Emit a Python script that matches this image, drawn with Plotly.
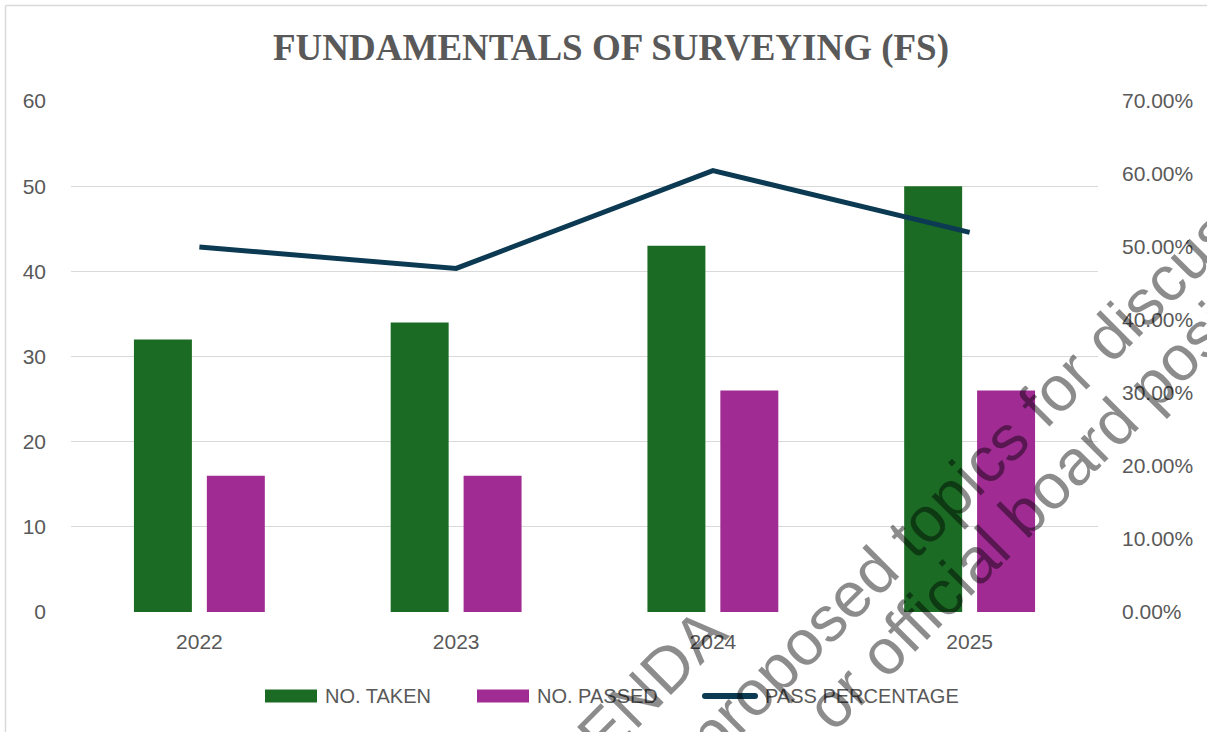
import plotly.graph_objects as go

# ---------------- data ----------------
years = ["2022", "2023", "2024", "2025"]
no_taken = [32, 34, 43, 50]
no_passed = [16, 16, 26, 26]
pass_pct = [0.50, 0.4706, 0.6047, 0.52]

title_text = "FUNDAMENTALS OF SURVEYING (FS)"
legend_names = ["NO. TAKEN", "NO. PASSED", "PASS PERCENTAGE"]
watermark_lines = ["AGENDA", "proposed topics for discussion", "or official board position"]

# ---------------- styles ----------------
GREEN = "#1B6B24"
PURPLE = "#A02B93"
NAVY = "#0C3A52"
TEXT = "#595959"
GRID = "#D9D9D9"

W, H = 1207, 732
L, R, T, B = 71, 1098, 101, 612  # plot area in pixels


def px2x(px):
    return (px - L) / (R - L)


def px2y(py):
    return (B - py) / (B - T)


fig = go.Figure()
fig.add_trace(go.Bar(x=years, y=no_taken, name=legend_names[0], marker_color=GREEN,
                     marker_line_width=0, showlegend=False))
fig.add_trace(go.Bar(x=years, y=no_passed, name=legend_names[1], marker_color=PURPLE,
                     marker_line_width=0, showlegend=False))
fig.add_trace(go.Scatter(x=years, y=pass_pct, name=legend_names[2], yaxis="y2",
                         mode="lines", line=dict(color=NAVY, width=5), showlegend=False))

shapes = []
annotations = []

# outer chart frame (top and left edges visible)
shapes.append(dict(type="line", xref="paper", yref="paper",
                   x0=px2x(5.5), x1=px2x(W + 5), y0=px2y(5.5), y1=px2y(5.5),
                   line=dict(color=GRID, width=1.5)))
shapes.append(dict(type="line", xref="paper", yref="paper",
                   x0=px2x(5.5), x1=px2x(5.5), y0=px2y(5.5), y1=px2y(H + 5),
                   line=dict(color=GRID, width=1.5)))

# custom legend
ly0, ly1, lyc = px2y(702.5), px2y(689.5), px2y(696)
shapes.append(dict(type="rect", xref="paper", yref="paper", x0=px2x(265), x1=px2x(317),
                   y0=ly0, y1=ly1, fillcolor=GREEN, line_width=0))
shapes.append(dict(type="rect", xref="paper", yref="paper", x0=px2x(477), x1=px2x(529),
                   y0=ly0, y1=ly1, fillcolor=PURPLE, line_width=0))
# rounded line swatch
x0, x1 = px2x(705), px2x(755)
r = 3.0 / (R - L)
ya, yb = px2y(693), px2y(699)
path = (f"M{x0},{ya} L{x1},{ya} Q{x1 + r},{ya} {x1 + r},{lyc} Q{x1 + r},{yb} {x1},{yb} "
        f"L{x0},{yb} Q{x0 - r},{yb} {x0 - r},{lyc} Q{x0 - r},{ya} {x0},{ya} Z")
shapes.append(dict(type="path", xref="paper", yref="paper", path=path,
                   fillcolor=NAVY, line_width=0))
for name, px in zip(legend_names, [323, 535, 763]):
    annotations.append(dict(text=name, xref="paper", yref="paper", x=px2x(px), y=lyc,
                            xanchor="left", yanchor="middle", showarrow=False,
                            font=dict(family="Liberation Sans, Arial", size=20, color=TEXT)))

# watermark
wm_centers = [(619, 716), (1002, 443), (1056, 480)]
for txt, (cx, cy) in zip(watermark_lines, wm_centers):
    annotations.append(dict(text=txt, xref="paper", yref="paper", x=px2x(cx), y=px2y(cy),
                            xanchor="center", yanchor="middle", showarrow=False,
                            textangle=-45,
                            font=dict(family="Liberation Sans, Arial", size=64,
                                      color="rgba(0,0,0,0.45)")))

fig.update_layout(
    width=W, height=H, autosize=False,
    margin=dict(l=L, r=W - R, t=T, b=H - B, pad=0),
    paper_bgcolor="white", plot_bgcolor="white",
    barmode="group", bargap=0.432, bargroupgap=0.205,
    title=dict(text=f"<b>{title_text}</b>", x=611 / W, xref="container", xanchor="center",
               y=1 - 47 / H, yref="container", yanchor="middle",
               font=dict(family="Liberation Serif, Times New Roman", size=37, color=TEXT)),
    xaxis=dict(type="category", showgrid=False, showline=False, zeroline=False,
               ticks="", ticklabelstandoff=15,
               tickfont=dict(family="Liberation Sans, Arial", size=21, color=TEXT)),
    yaxis=dict(range=[0, 60], dtick=10, showgrid=True, gridcolor=GRID, gridwidth=1.3,
               zeroline=False, showline=False, ticks="", ticklabelstandoff=24,
               tickfont=dict(family="Liberation Sans, Arial", size=21, color=TEXT)),
    yaxis2=dict(range=[0, 0.7], dtick=0.1, tickformat=".2%", overlaying="y", side="right",
                showgrid=False, zeroline=False, showline=False, ticks="",
                ticklabelstandoff=23,
                tickfont=dict(family="Liberation Sans, Arial", size=21, color=TEXT)),
    shapes=shapes,
    annotations=annotations,
)

fig.write_html(
    "out.html",
    config={"displayModeBar": False},
    post_script="document.body.style.margin='0';document.body.style.overflow='hidden';",
)
